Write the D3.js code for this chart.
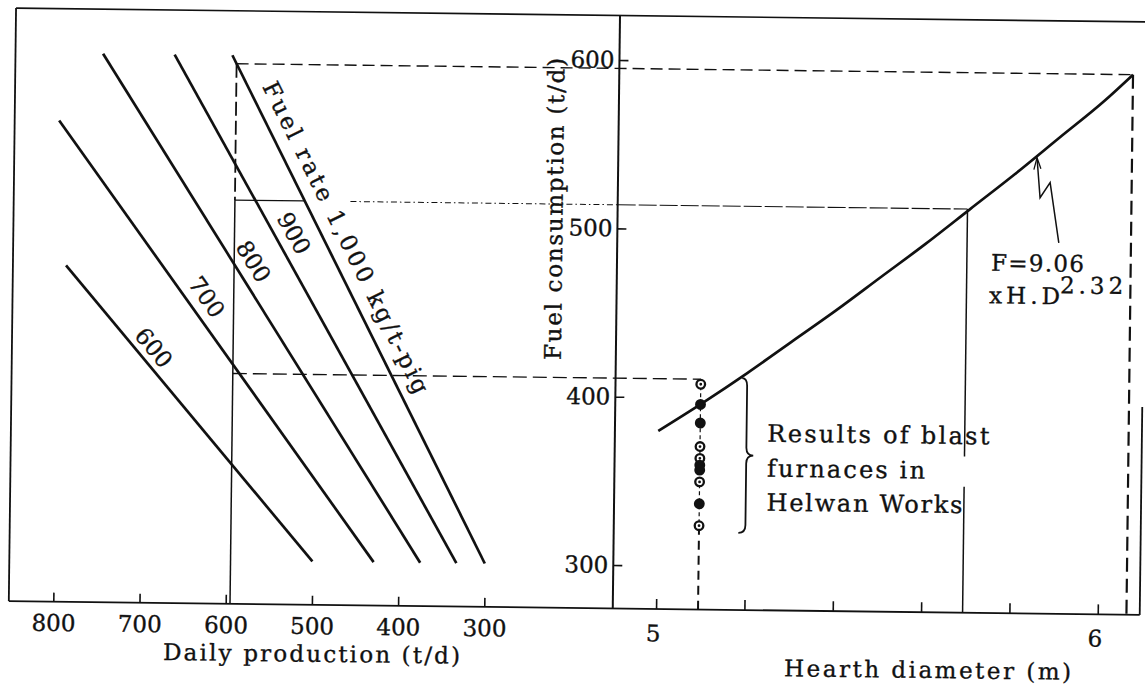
<!DOCTYPE html>
<html>
<head>
<meta charset="utf-8">
<script src="https://cdn.jsdelivr.net/npm/d3@7"></script>
<style>
  html, body { margin: 0; padding: 0; background: #fff; }
  svg { display: block; }
  text { font-family: "DejaVu Serif", serif; fill: #111; stroke: #111; stroke-width: 0.35px; }
</style>
</head>
<body>
<svg id="chart" width="1145" height="686"></svg>
<script>
// ---- data -------------------------------------------------------------
// Left panel: daily production (t/d), reversed axis
const productionTicks = [800, 700, 600, 500, 400, 300];
// Shared vertical axis: fuel consumption (t/d)
const fuelTicks = [300, 400, 500, 600];
// Right panel: hearth diameter (m)
const diameterTicks = [5, 5.2, 5.4, 5.6, 5.8, 6];
const diameterLabels = [5, 6];

// Fuel-rate lines (kg/t-pig), each drawn between two [production, fuel] points
const fuelRates = [600, 700, 800, 900, 1000];
const rateStartProd = [790, 800, 750, 667, 600];
const rateStartFuel = [474, 560, 600, 600, 600];
const rateEndProd = [500, 429, 375, 333, 300];
const rateEndFuel = [300, 300, 300, 300, 300];
const rateLabels = ["600", "700", "800", "900", "Fuel rate 1,000 kg/t-pig"];

// Fuel consumption vs hearth diameter, F = 9.06 x H.D^2.32
const curveDiameter = [5.0, 5.1, 5.2, 5.3, 5.4, 5.5, 5.6, 5.7, 5.8, 5.9, 6.0, 6.065];
const curveFuel = [380, 397, 415, 434, 453, 473, 493, 514, 535, 557, 579, 595];

// Results of the blast furnaces in Helwan Works
const helwanDiameter = 5.095;
const helwanFuel = [408, 396, 385, 371, 364, 360, 357, 350, 337, 324];
const helwanFilled = [false, true, true, false, false, true, true, false, true, false];

// Read-off guides: fuel level, matching diameter and production
const guideFuel = [595, 514, 411];
const guideDiameter = [6.065, 5.694, 5.095];
const guideProduction = 595;

// ---- layout -----------------------------------------------------------
const L = 12, R = 1143, T = 15, B = 608, AX = 616;
const FS = 23;

const svg = d3.select("#chart");
const g = svg.append("g").attr("transform", "rotate(0.7,578,343)");

const xProd = d3.scaleLinear().domain([800, 300]).range([56.5, 487.5]);
const yFuel = d3.scaleLinear().domain([300, 600]).range([564.6, 59.5]);
const xDia = d3.scaleLinear().domain([5, 6]).range([659.3, 1101]);

function seg(x1, y1, x2, y2, w, dash) {
  const l = g.append("line")
    .attr("x1", x1).attr("y1", y1).attr("x2", x2).attr("y2", y2)
    .attr("stroke", "#111").attr("stroke-width", w);
  if (dash) l.attr("stroke-dasharray", dash);
  return l;
}

// frame
seg(L, T, R, T, 1.6);
seg(L, T, L, B, 1.8);
seg(L, B, R, B, 1.8);
seg(AX, T, AX, B, 2);
seg(R, 400, R, B, 1.8);

// axes
function styleAxis(sel) {
  sel.select(".domain").remove();
  sel.attr("font-family", null).attr("font-size", FS);
  sel.selectAll(".tick line").attr("stroke", "#111").attr("stroke-width", 1.6);
  sel.selectAll(".tick text").attr("fill", "#111");
}

g.append("g")
  .attr("transform", `translate(0,${B})`)
  .call(d3.axisBottom(xProd).tickValues(productionTicks)
    .tickSizeInner(-9).tickSizeOuter(0).tickPadding(13)
    .tickFormat(d => String(d)))
  .call(styleAxis);

g.append("g")
  .attr("transform", `translate(0,${B})`)
  .call(d3.axisBottom(xDia).tickValues(diameterTicks)
    .tickSizeInner(-10).tickSizeOuter(0).tickPadding(16)
    .tickFormat(d => diameterLabels.includes(d) ? String(d) : ""))
  .call(styleAxis)
  .selectAll(".tick text").attr("dx", -3);

g.append("g")
  .attr("transform", `translate(${AX},0)`)
  .call(d3.axisLeft(yFuel).tickValues(fuelTicks)
    .tickSizeInner(-9).tickSizeOuter(0).tickPadding(5)
    .tickFormat(d => String(d)))
  .call(styleAxis);

// read-off guides
const pX = xProd(guideProduction);
// top guide
seg(pX, yFuel(guideFuel[0]), xDia(guideDiameter[0]), yFuel(guideFuel[0]), 1.4, "12,6");
seg(xDia(guideDiameter[0]), yFuel(guideFuel[0]), xDia(guideDiameter[0]), B, 2.2, "14,7");
seg(pX, yFuel(guideFuel[0]), pX, yFuel(guideFuel[1]), 1.8, "14,5");
// middle guide
seg(pX, yFuel(guideFuel[1]), pX, B, 1.5);
seg(pX, yFuel(guideFuel[1]), xProd(guideFuel[1]), yFuel(guideFuel[1]), 1.3);
seg(xProd(461), yFuel(guideFuel[1]), AX, yFuel(guideFuel[1]), 1, "6,3,1.5,3");
seg(AX, yFuel(guideFuel[1]), xDia(guideDiameter[1]), yFuel(guideFuel[1]), 1.1, "18,3");
seg(xDia(guideDiameter[1]), B, xDia(guideDiameter[1]), yFuel(349), 1.5);
seg(xDia(guideDiameter[1]), yFuel(367), xDia(guideDiameter[1]), yFuel(guideFuel[1]), 1.5);
// low guide
seg(pX, yFuel(guideFuel[2]), xDia(guideDiameter[2]), yFuel(guideFuel[2]), 1.4, "14,6");

// fuel-rate lines
fuelRates.forEach((r, i) => {
  const x0 = xProd(rateStartProd[i]), y0 = yFuel(rateStartFuel[i]);
  const x1 = xProd(rateEndProd[i]), y1 = yFuel(rateEndFuel[i]);
  seg(x0, y0, x1, y1, 2.7);
});

// fuel-rate labels, set along each line
const labelProd = [700, 643, 590, 544, 487];
const labelOffset = [15, 18, 18, 18, 21];
fuelRates.forEach((r, i) => {
  const x0 = xProd(rateStartProd[i]), y0 = yFuel(rateStartFuel[i]);
  const x1 = xProd(rateEndProd[i]), y1 = yFuel(rateEndFuel[i]);
  const a = Math.atan2(y1 - y0, x1 - x0);
  const fx = xProd(labelProd[i]);
  const fy = y0 + (fx - x0) / (x1 - x0) * (y1 - y0);
  const cx = fx + labelOffset[i] * Math.sin(a);
  const cy = fy - labelOffset[i] * Math.cos(a);
  const t = g.append("text")
    .attr("transform", `translate(${cx},${cy}) rotate(${a * 180 / Math.PI})`)
    .attr("text-anchor", "middle").attr("dy", "0.36em")
    .attr("font-size", FS)
    .text(rateLabels[i]);
  if (i === 4) t.attr("textLength", 345).attr("lengthAdjust", "spacing");
});

// curve
g.append("path")
  .datum(curveDiameter.map((d, i) => [d, curveFuel[i]]))
  .attr("fill", "none").attr("stroke", "#111").attr("stroke-width", 2.7)
  .attr("d", d3.line().x(d => xDia(d[0])).y(d => yFuel(d[1])).curve(d3.curveMonotoneX));

// Helwan results
const hx = xDia(helwanDiameter);
seg(hx, yFuel(guideFuel[2]), hx, yFuel(helwanFuel[helwanFuel.length - 1]), 1.2, "4,3");
seg(hx, yFuel(helwanFuel[helwanFuel.length - 1]), hx, B, 2, "9,6");
g.selectAll("circle.res").data(helwanFuel).enter().append("circle")
  .attr("class", "res")
  .attr("cx", hx).attr("cy", d => yFuel(d)).attr("r", 4.3)
  .attr("fill", (d, i) => helwanFilled[i] ? "#111" : "#fff")
  .attr("stroke", "#111").attr("stroke-width", 2.3);
g.selectAll("circle.core").data(helwanFuel.filter((d, i) => !helwanFilled[i])).enter().append("circle")
  .attr("class", "core")
  .attr("cx", hx).attr("cy", d => yFuel(d)).attr("r", 1.4).attr("fill", "#111");

// brace
{
  const x0 = xDia(5.2), y0 = yFuel(412), y1 = yFuel(320), ym = (y0 + y1) / 2;
  const p = `M${x0 - 5},${y0} Q${x0},${y0} ${x0},${y0 + 8} L${x0},${ym - 8} Q${x0},${ym} ${x0 + 7},${ym} ` +
            `Q${x0},${ym} ${x0},${ym + 8} L${x0},${y1 - 8} Q${x0},${y1} ${x0 - 7},${y1}`;
  g.append("path").attr("d", p).attr("fill", "none").attr("stroke", "#111").attr("stroke-width", 1.8);
}

// annotation text
const notes = g.append("g").attr("font-size", 24);
[["Results of blast", 439.4, 222], ["furnaces in", 474.4, 158], ["Helwan Works", 508.4, 196]]
  .forEach(([s, y, w]) => notes.append("text").attr("x", 768.5).attr("y", y)
    .attr("textLength", w).attr("lengthAdjust", "spacing").text(s));

// formula leader
{
  const ax = xDia(5.85), ay = yFuel(545);
  const p = `M${ax},${ay} L${ax + 3.5},${ay + 40} L${ax + 13.4},${ay + 24.8} L${ax + 22.8},${ay + 84.8}`;
  g.append("path").attr("d", p).attr("fill", "none").attr("stroke", "#111").attr("stroke-width", 1.5);
  g.append("path").attr("d", `M${ax - 3},${ay + 12} L${ax},${ay} L${ax + 4},${ay + 11}`)
    .attr("fill", "none").attr("stroke", "#111").attr("stroke-width", 1.3);
}
g.append("text").attr("x", 990).attr("y", 265.7).attr("font-size", FS)
  .attr("textLength", 93).attr("lengthAdjust", "spacing").text("F=9.06");
g.append("text").attr("x", 988.5).attr("y", 298.3).attr("font-size", FS)
  .attr("textLength", 71).attr("lengthAdjust", "spacing").text("xH.D");
g.append("text").attr("x", 1059.4).attr("y", 287.4).attr("font-size", FS)
  .attr("textLength", 63).attr("lengthAdjust", "spacing").text("2.32");

// axis titles
g.append("text").attr("x", 315.4).attr("y", 665).attr("font-size", FS)
  .attr("text-anchor", "middle").attr("textLength", 297).attr("lengthAdjust", "spacing")
  .text("Daily production (t/d)");
g.append("text").attr("x", 931.6).attr("y", 673.7).attr("font-size", FS)
  .attr("text-anchor", "middle").attr("textLength", 287).attr("lengthAdjust", "spacing")
  .text("Hearth diameter (m)");
g.append("text").attr("transform", "translate(561,209.3) rotate(-90)").attr("font-size", FS)
  .attr("text-anchor", "middle").attr("textLength", 302).attr("lengthAdjust", "spacing")
  .text("Fuel consumption (t/d)");
</script>
</body>
</html>
